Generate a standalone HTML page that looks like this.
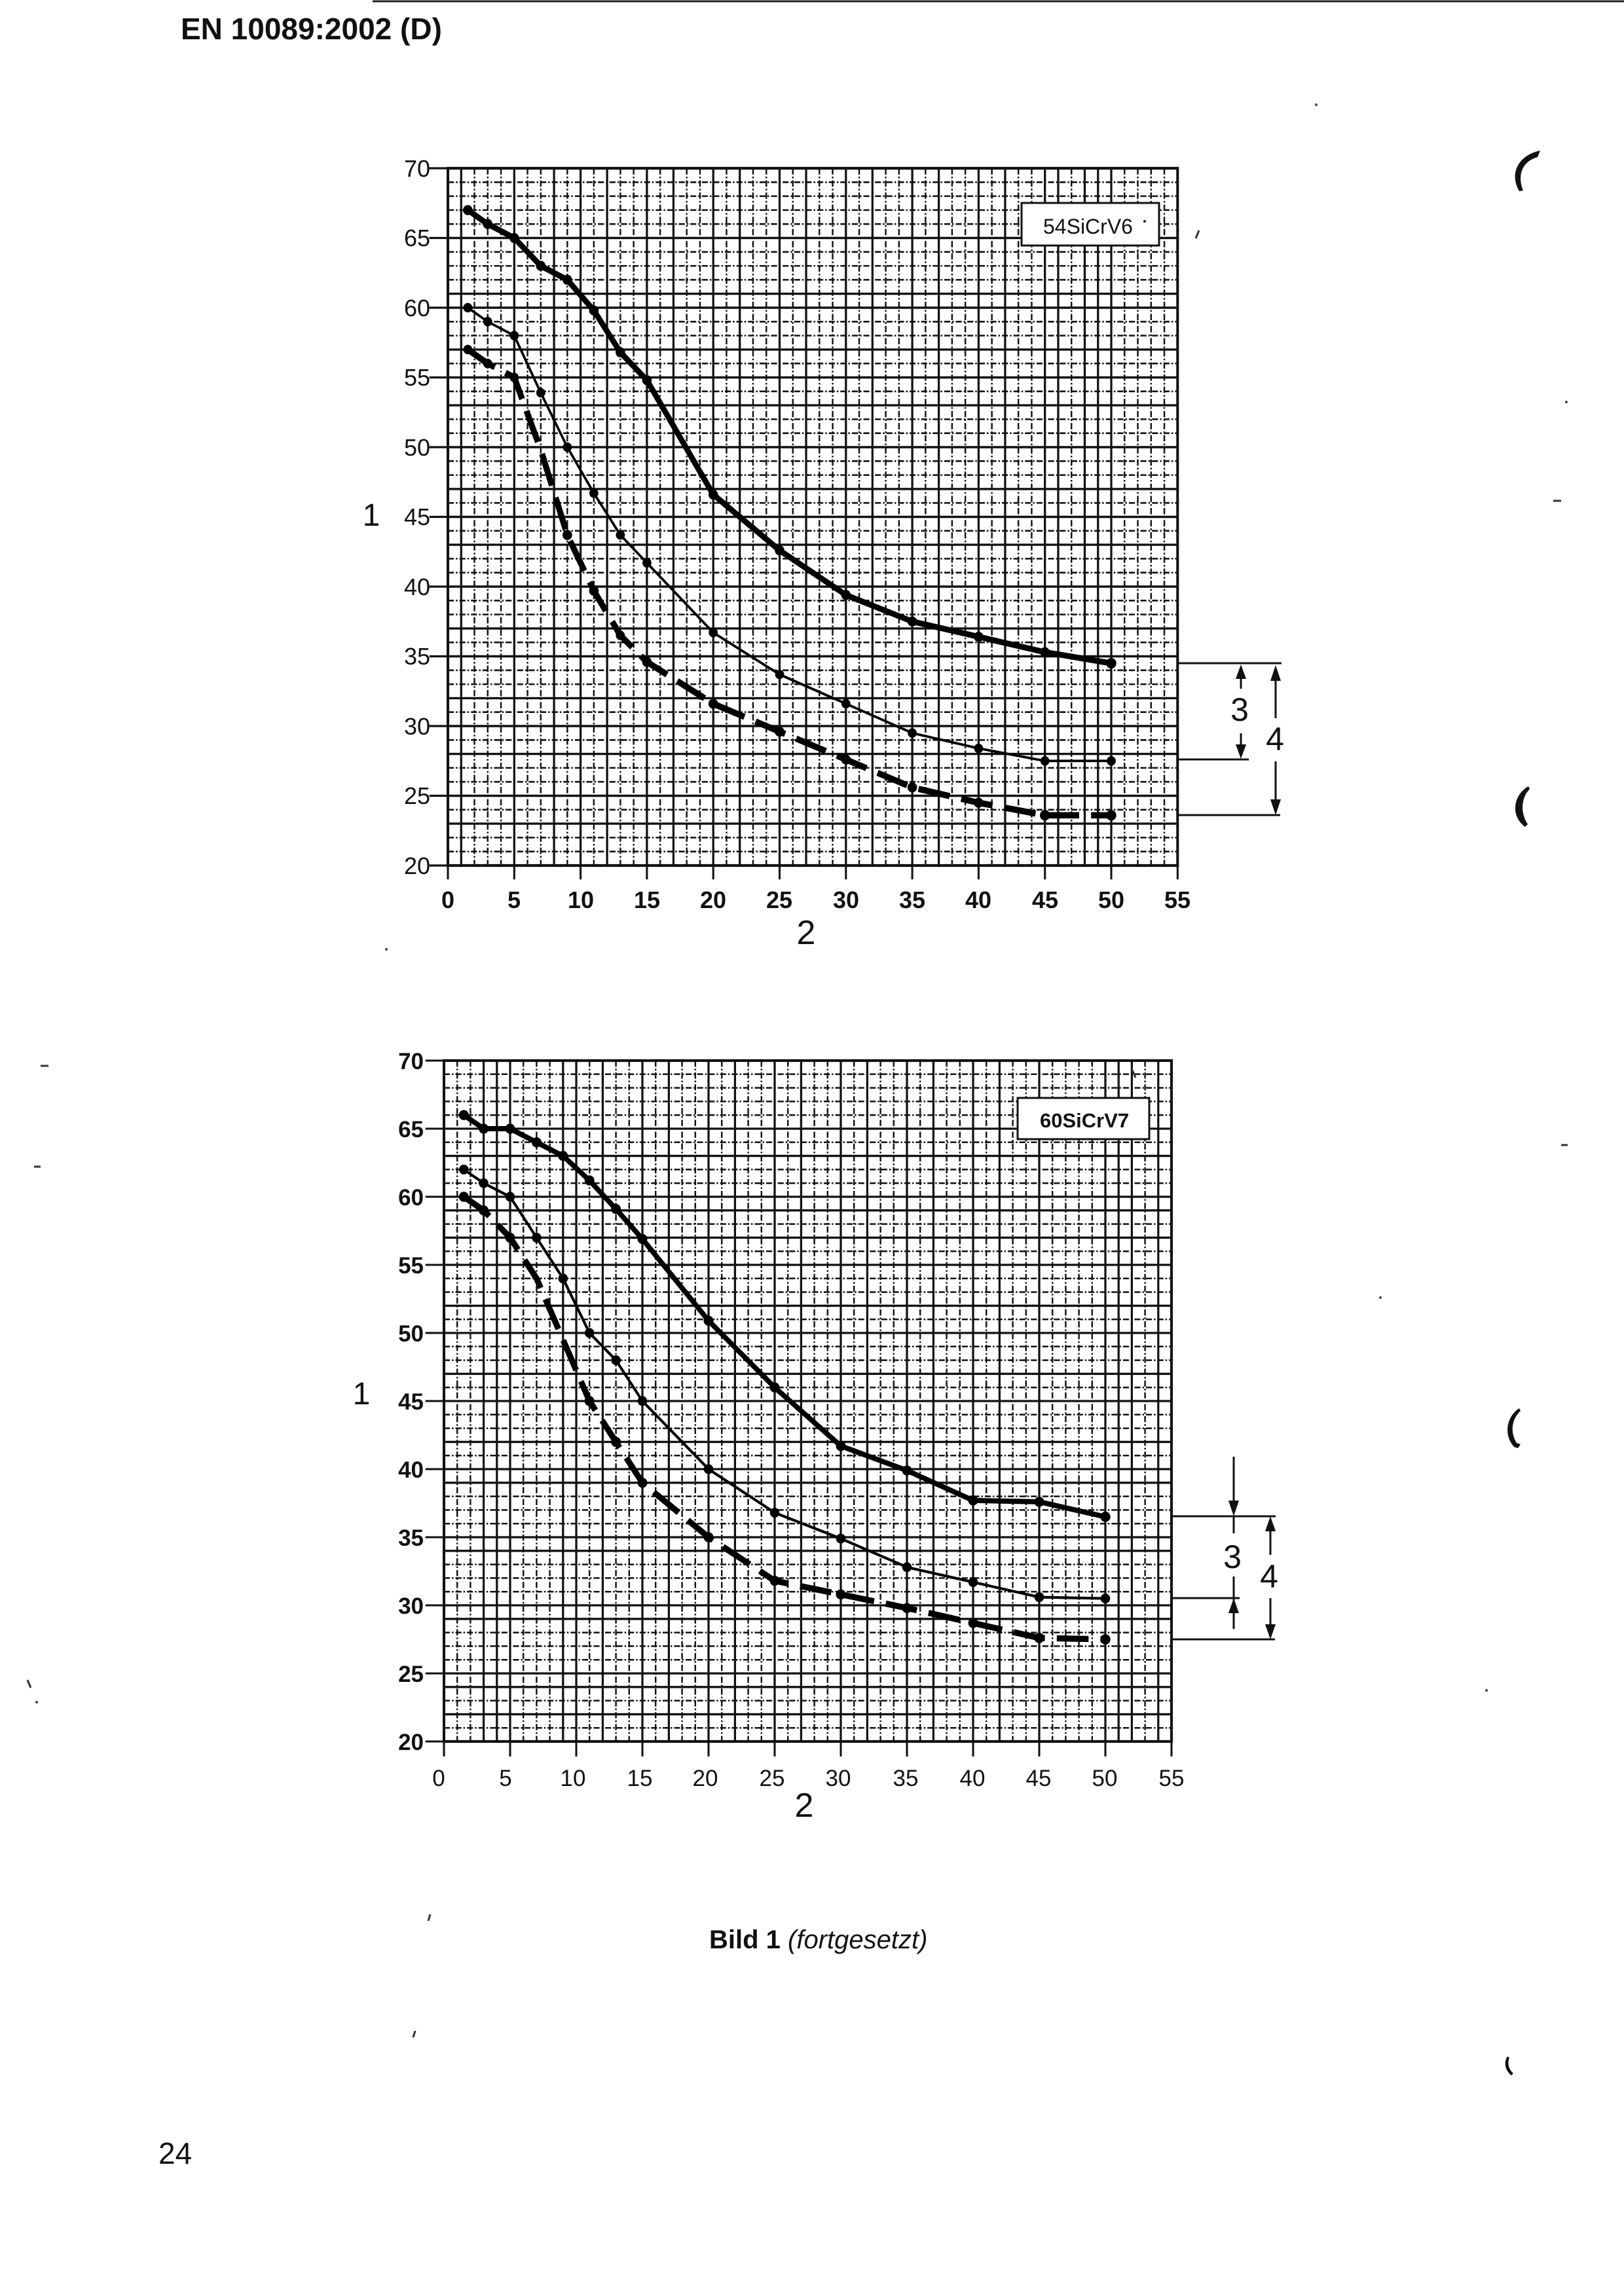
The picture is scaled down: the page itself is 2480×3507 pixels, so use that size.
<!DOCTYPE html>
<html>
<head>
<meta charset="utf-8">
<style>
html,body{margin:0;padding:0;background:#fff;}
svg{display:block;}
text{font-family:"Liberation Sans",Arial,sans-serif;fill:#111;}
</style>
</head>
<body>
<svg width="2480" height="3507" viewBox="0 0 2480 3507" xmlns="http://www.w3.org/2000/svg">
<rect x="0" y="0" width="2480" height="3507" fill="#fff"/>

<!-- top border line -->
<path d="M569 2H2480" stroke="#222" stroke-width="3"/>

<!-- header -->
<text x="276" y="60" font-size="46" font-weight="bold">EN 10089:2002 (D)</text>

<!-- ================= CHART 1 ================= -->
<g transform="translate(684,257) scale(20.26,21.3)" fill="none" stroke-linecap="butt">
  <!-- dotted grid -->
  <path stroke="#111" stroke-width="0.12" stroke-dasharray="0.45 0.15 0.12 0.15"
    d="M2 0V50M3 0V50M4 0V50M6 0V50M7 0V50M9 0V50M11 0V50M13 0V50M14 0V50M16 0V50M18 0V50M19 0V50M21 0V50M23 0V50M24 0V50M26 0V50M28 0V50M29 0V50M31 0V50M33 0V50M34 0V50M36 0V50M38 0V50M39 0V50M41 0V50M43 0V50M44 0V50M47 0V50M51 0V50M52 0V50M53 0V50M54 0V50
       M0 1H55M0 2H55M0 3H55M0 4H55M0 6H55M0 7H55M0 8H55M0 11H55M0 12H55M0 14H55M0 16H55M0 18H55M0 19H55M0 21H55M0 22H55M0 24H55M0 26H55M0 28H55M0 29H55M0 31H55M0 32H55M0 34H55M0 36H55M0 37H55M0 39H55M0 41H55M0 43H55M0 44H55M0 46H55M0 48H55M0 49H55"/>
  <!-- solid grid -->
  <path stroke="#111" stroke-width="0.16"
    d="M1 0V50M5 0V50M8 0V50M10 0V50M12 0V50M15 0V50M17 0V50M20 0V50M22 0V50M25 0V50M27 0V50M30 0V50M32 0V50M35 0V50M37 0V50M40 0V50M42 0V50M45 0V50M46 0V50M48 0V50M49 0V50M50 0V50
       M0 5H55M0 9H55M0 10H55M0 13H55M0 15H55M0 17H55M0 20H55M0 23H55M0 25H55M0 27H55M0 30H55M0 33H55M0 35H55M0 38H55M0 40H55M0 42H55M0 45H55M0 47H55"/>
  <!-- frame -->
  <rect x="0" y="0" width="55" height="50" stroke="#111" stroke-width="0.2"/>
  <!-- ticks -->
  <path stroke="#111" stroke-width="0.15"
    d="M-1.4 0H0M-1.4 5H0M-1.4 10H0M-1.4 15H0M-1.4 20H0M-1.4 25H0M-1.4 30H0M-1.4 35H0M-1.4 40H0M-1.4 45H0M-1.4 50H0
       M0 50V51M5 50V51M10 50V51M15 50V51M20 50V51M25 50V51M30 50V51M35 50V51M40 50V51M45 50V51M50 50V51M55 50V51"/>
  <!-- curves -->
  <polyline stroke="#000" stroke-width="0.42" stroke-linejoin="round" stroke-linecap="round"
    points="1.5,3 3,4 5,5 7,7 9,8 11,10.2 13,13.2 15,15.2 20,23.4 25,27.4 30,30.6 35,32.5 40,33.6 45,34.7 50,35.5"/>
  <polyline stroke="#000" stroke-width="0.18" stroke-linejoin="round"
    points="1.5,10 3,11 5,12 7,16.1 9,20 11,23.3 13,26.3 15,28.3 20,33.3 25,36.3 30,38.4 35,40.5 40,41.6 45,42.5 50,42.5"/>
  <polyline stroke="#000" stroke-width="0.45" stroke-linejoin="round" stroke-dasharray="2.4 0.9"
    points="1.5,13 3,14 5,15 7,20.2 9,26.3 11,30.3 13,33.5 15,35.4 20,38.4 25,40.4 30,42.4 35,44.4 40,45.5 45,46.4 50,46.4"/>
  <!-- dots -->
  <g fill="#000" stroke="none">
    <circle cx="1.5" cy="3" r="0.36"/><circle cx="3" cy="4" r="0.36"/><circle cx="5" cy="5" r="0.36"/><circle cx="7" cy="7" r="0.36"/><circle cx="9" cy="8" r="0.36"/><circle cx="11" cy="10.2" r="0.36"/><circle cx="13" cy="13.2" r="0.36"/><circle cx="15" cy="15.2" r="0.36"/><circle cx="20" cy="23.4" r="0.36"/><circle cx="25" cy="27.4" r="0.36"/><circle cx="30" cy="30.6" r="0.36"/><circle cx="35" cy="32.5" r="0.36"/><circle cx="40" cy="33.6" r="0.36"/><circle cx="45" cy="34.7" r="0.36"/><circle cx="50" cy="35.5" r="0.38"/>
    <circle cx="1.5" cy="10" r="0.34"/><circle cx="3" cy="11" r="0.34"/><circle cx="5" cy="12" r="0.34"/><circle cx="7" cy="16.1" r="0.34"/><circle cx="9" cy="20" r="0.34"/><circle cx="11" cy="23.3" r="0.34"/><circle cx="13" cy="26.3" r="0.34"/><circle cx="15" cy="28.3" r="0.34"/><circle cx="20" cy="33.3" r="0.34"/><circle cx="25" cy="36.3" r="0.34"/><circle cx="30" cy="38.4" r="0.34"/><circle cx="35" cy="40.5" r="0.34"/><circle cx="40" cy="41.6" r="0.34"/><circle cx="45" cy="42.5" r="0.34"/><circle cx="50" cy="42.5" r="0.34"/>
    <circle cx="1.5" cy="13" r="0.34"/><circle cx="3" cy="14" r="0.34"/><circle cx="5" cy="15" r="0.34"/><circle cx="9" cy="26.3" r="0.36"/><circle cx="11" cy="30.3" r="0.36"/><circle cx="13" cy="33.5" r="0.34"/><circle cx="15" cy="35.4" r="0.36"/><circle cx="20" cy="38.4" r="0.36"/><circle cx="25" cy="40.4" r="0.36"/><circle cx="30" cy="42.4" r="0.36"/><circle cx="35" cy="44.4" r="0.36"/><circle cx="40" cy="45.5" r="0.36"/><circle cx="45" cy="46.4" r="0.38"/><circle cx="50" cy="46.4" r="0.38"/>
  </g>
</g>
<!-- chart 1 legend -->
<rect x="1560" y="310" width="210" height="65" fill="#fff" stroke="#111" stroke-width="3"/>
<text x="1593" y="357" font-size="32">54SiCrV6</text>
<circle cx="1748" cy="338" r="2" fill="#222"/>
<!-- chart 1 y labels -->
<g font-size="36" text-anchor="end">
  <text x="657" y="270">70</text>
  <text x="657" y="376">65</text>
  <text x="657" y="483">60</text>
  <text x="657" y="589">55</text>
  <text x="657" y="696">50</text>
  <text x="657" y="802">45</text>
  <text x="657" y="909">40</text>
  <text x="657" y="1015">35</text>
  <text x="657" y="1122">30</text>
  <text x="657" y="1228">25</text>
  <text x="657" y="1335">20</text>
</g>
<!-- chart 1 x labels -->
<g font-size="36" font-weight="bold" text-anchor="middle">
  <text x="684" y="1387">0</text>
  <text x="785" y="1387">5</text>
  <text x="887" y="1387">10</text>
  <text x="988" y="1387">15</text>
  <text x="1089" y="1387">20</text>
  <text x="1190" y="1387">25</text>
  <text x="1292" y="1387">30</text>
  <text x="1393" y="1387">35</text>
  <text x="1494" y="1387">40</text>
  <text x="1596" y="1387">45</text>
  <text x="1697" y="1387">50</text>
  <text x="1798" y="1387">55</text>
</g>
<text x="567" y="803" font-size="48" text-anchor="middle">1</text>
<text x="1231" y="1442" font-size="52" text-anchor="middle">2</text>
<!-- chart 1 annotations -->
<g stroke="#111" stroke-width="3" fill="none">
  <path d="M1798 1013H1957M1798 1160H1907M1798 1245H1955"/>
  <path d="M1895 1035V1052M1895 1120V1140M1948 1038V1097M1948 1163V1224"/>
</g>
<g fill="#111">
  <polygon points="1895,1015 1887,1037 1903,1037"/>
  <polygon points="1895,1159 1887,1137 1903,1137"/>
  <polygon points="1948,1016 1940,1040 1956,1040"/>
  <polygon points="1948,1245 1940,1221 1956,1221"/>
</g>
<text x="1893" y="1101" font-size="50" text-anchor="middle">3</text>
<text x="1947" y="1146" font-size="50" text-anchor="middle">4</text>

<!-- ================= CHART 2 ================= -->
<g transform="translate(678,1620) scale(20.2,20.8)" fill="none" stroke-linecap="butt">
  <path stroke="#111" stroke-width="0.12" stroke-dasharray="0.45 0.15 0.12 0.15"
    d="M1 0V50M2 0V50M6 0V50M7 0V50M8 0V50M11 0V50M13 0V50M14 0V50M16 0V50M18 0V50M19 0V50M21 0V50M23 0V50M24 0V50M26 0V50M28 0V50M29 0V50M31 0V50M33 0V50M34 0V50M36 0V50M38 0V50M39 0V50M41 0V50M43 0V50M44 0V50M46 0V50M47 0V50M48 0V50M49 0V50M53 0V50
       M0 1H55M0 2H55M0 3H55M0 4H55M0 6H55M0 8H55M0 9H55M0 12H55M0 14H55M0 16H55M0 17H55M0 19H55M0 21H55M0 22H55M0 24H55M0 26H55M0 27H55M0 29H55M0 32H55M0 33H55M0 34H55M0 37H55M0 38H55M0 39H55M0 42H55M0 43H55M0 44H55M0 47H55M0 49H55"/>
  <path stroke="#111" stroke-width="0.16"
    d="M3 0V50M4 0V50M5 0V50M9 0V50M10 0V50M12 0V50M15 0V50M17 0V50M20 0V50M22 0V50M25 0V50M27 0V50M30 0V50M32 0V50M35 0V50M37 0V50M40 0V50M42 0V50M45 0V50M50 0V50M51 0V50M52 0V50M54 0V50
       M0 5H55M0 7H55M0 10H55M0 11H55M0 13H55M0 15H55M0 18H55M0 20H55M0 23H55M0 25H55M0 28H55M0 30H55M0 31H55M0 35H55M0 36H55M0 40H55M0 41H55M0 45H55M0 46H55M0 48H55"/>
  <rect x="0" y="0" width="55" height="50" stroke="#111" stroke-width="0.2"/>
  <path stroke="#111" stroke-width="0.15"
    d="M-1.4 0H0M-1.4 5H0M-1.4 10H0M-1.4 15H0M-1.4 20H0M-1.4 25H0M-1.4 30H0M-1.4 35H0M-1.4 40H0M-1.4 45H0M-1.4 50H0
       M0 50V51.1M5 50V51.1M10 50V51.1M15 50V51.1M20 50V51.1M25 50V51.1M30 50V51.1M35 50V51.1M40 50V51.1M45 50V51.1M50 50V51.1M55 50V51.1"/>
  <polyline stroke="#000" stroke-width="0.38" stroke-linejoin="round" stroke-linecap="round"
    points="1.5,4 3,5 5,5 7,6 9,7 11,8.8 13,10.9 15,13.1 20,19.1 25,24 30,28.3 35,30.1 40,32.3 45,32.4 50,33.5"/>
  <polyline stroke="#000" stroke-width="0.2" stroke-linejoin="round"
    points="1.5,8 3,9 5,10 7,13 9,16 11,20 13,22 15,25 20,30 25,33.2 30,35.1 35,37.2 40,38.3 45,39.4 50,39.5"/>
  <polyline stroke="#000" stroke-width="0.45" stroke-linejoin="round" stroke-dasharray="2.4 0.9"
    points="1.5,10 3,11 5,13 7,16 9,20.5 11,25 13,28 15,31 20,35 25,38.2 30,39.2 35,40.2 40,41.3 45,42.4 50,42.5"/>
  <g fill="#000" stroke="none">
    <circle cx="1.5" cy="4" r="0.37"/><circle cx="3" cy="5" r="0.37"/><circle cx="5" cy="5" r="0.37"/><circle cx="7" cy="6" r="0.37"/><circle cx="9" cy="7" r="0.37"/><circle cx="11" cy="8.8" r="0.37"/><circle cx="13" cy="10.9" r="0.37"/><circle cx="15" cy="13.1" r="0.37"/><circle cx="20" cy="19.1" r="0.37"/><circle cx="25" cy="24" r="0.37"/><circle cx="30" cy="28.3" r="0.37"/><circle cx="35" cy="30.1" r="0.37"/><circle cx="40" cy="32.3" r="0.37"/><circle cx="45" cy="32.4" r="0.37"/><circle cx="50" cy="33.5" r="0.38"/>
    <circle cx="1.5" cy="8" r="0.36"/><circle cx="3" cy="9" r="0.36"/><circle cx="5" cy="10" r="0.36"/><circle cx="7" cy="13" r="0.36"/><circle cx="9" cy="16" r="0.36"/><circle cx="11" cy="20" r="0.36"/><circle cx="13" cy="22" r="0.36"/><circle cx="15" cy="25" r="0.36"/><circle cx="20" cy="30" r="0.36"/><circle cx="25" cy="33.2" r="0.36"/><circle cx="30" cy="35.1" r="0.36"/><circle cx="35" cy="37.2" r="0.36"/><circle cx="40" cy="38.3" r="0.36"/><circle cx="45" cy="39.4" r="0.36"/><circle cx="50" cy="39.5" r="0.36"/>
    <circle cx="1.5" cy="10" r="0.37"/><circle cx="3" cy="11" r="0.37"/><circle cx="5" cy="13" r="0.37"/><circle cx="11" cy="25" r="0.37"/><circle cx="13" cy="28" r="0.37"/><circle cx="15" cy="31" r="0.37"/><circle cx="20" cy="35" r="0.37"/><circle cx="25" cy="38.2" r="0.37"/><circle cx="30" cy="39.2" r="0.37"/><circle cx="35" cy="40.2" r="0.37"/><circle cx="40" cy="41.3" r="0.37"/><circle cx="45" cy="42.4" r="0.38"/><circle cx="50" cy="42.5" r="0.38"/>
  </g>
</g>
<!-- chart 2 legend -->
<rect x="1554" y="1677" width="201" height="63" fill="#fff" stroke="#111" stroke-width="3"/>
<text x="1588" y="1722" font-size="31" font-weight="bold">60SiCrV7</text>
<!-- chart 2 y labels -->
<g font-size="35" font-weight="bold" text-anchor="end">
  <text x="647" y="1633">70</text>
  <text x="647" y="1737">65</text>
  <text x="647" y="1841">60</text>
  <text x="647" y="1945">55</text>
  <text x="647" y="2049">50</text>
  <text x="647" y="2153">45</text>
  <text x="647" y="2257">40</text>
  <text x="647" y="2361">35</text>
  <text x="647" y="2465">30</text>
  <text x="647" y="2569">25</text>
  <text x="647" y="2673">20</text>
</g>
<!-- chart 2 x labels -->
<g font-size="35" text-anchor="middle">
  <text x="670" y="2728">0</text>
  <text x="772" y="2728">5</text>
  <text x="875" y="2728">10</text>
  <text x="977" y="2728">15</text>
  <text x="1077" y="2728">20</text>
  <text x="1179" y="2728">25</text>
  <text x="1280" y="2728">30</text>
  <text x="1383" y="2728">35</text>
  <text x="1485" y="2728">40</text>
  <text x="1586" y="2728">45</text>
  <text x="1687" y="2728">50</text>
  <text x="1789" y="2728">55</text>
</g>
<text x="552" y="2145" font-size="48" text-anchor="middle">1</text>
<text x="1228" y="2775" font-size="52" text-anchor="middle">2</text>
<!-- chart 2 annotations -->
<g stroke="#111" stroke-width="3" fill="none">
  <path d="M1790 2316H1948M1790 2441H1893M1790 2504H1947"/>
  <path d="M1884 2225V2295M1884 2316V2342M1884 2408V2488M1940 2338V2375M1940 2441V2484"/>
</g>
<g fill="#111">
  <polygon points="1884,2316 1876,2292 1892,2292"/>
  <polygon points="1884,2441 1876,2464 1892,2464"/>
  <polygon points="1940,2316 1932,2339 1948,2339"/>
  <polygon points="1940,2504 1932,2481 1948,2481"/>
</g>
<text x="1882" y="2395" font-size="50" text-anchor="middle">3</text>
<text x="1938" y="2425" font-size="50" text-anchor="middle">4</text>

<!-- caption -->
<text x="1083" y="2976" font-size="40"><tspan font-weight="bold">Bild 1</tspan> <tspan font-style="italic">(fortgesetzt)</tspan></text>

<!-- page number -->
<text x="242" y="3305" font-size="46">24</text>

<!-- scan marks (punch-hole shadows) -->
<g fill="#111">
  <path d="M2352 230 C2322 236 2303 262 2320 292 L2326 291 C2316 266 2326 246 2348 240 Z"/>
  <path d="M2334 1201 C2311 1214 2306 1246 2329 1263 L2333 1259 C2322 1242 2322 1220 2336 1205 Z"/>
  <path d="M2320 2151 C2300 2164 2296 2192 2312 2210 L2318 2212 L2322 2206 L2316 2204 C2306 2188 2308 2168 2322 2155 Z"/>
  <path d="M2302 3141 C2296 3150 2298 3162 2308 3170 L2311 3167 C2303 3160 2302 3150 2305 3143 Z"/>
</g>
<!-- stray specks -->
<g stroke="#333" stroke-width="3" fill="none">
  <path d="M1831 352 L1826 364"/>
  <path d="M2372 765 H2384"/>
  <path d="M2384 1749 H2394"/>
  <path d="M62 1628 H74"/>
  <path d="M52 1782 H62"/>
  <path d="M42 2566 L47 2578"/>
  <path d="M657 2924 L654 2934"/>
  <path d="M634 3102 L631 3112"/>
  <path d="M1728 1632 L1734 1646"/>
</g>
<g fill="#444">
  <circle cx="2108" cy="1982" r="2"/>
  <circle cx="56" cy="2600" r="2"/>
  <circle cx="2270" cy="2582" r="2"/>
  <circle cx="2010" cy="160" r="2"/>
  <circle cx="2392" cy="614" r="2"/>
  <circle cx="590" cy="1450" r="2"/>
</g>
</svg>
</body>
</html>
